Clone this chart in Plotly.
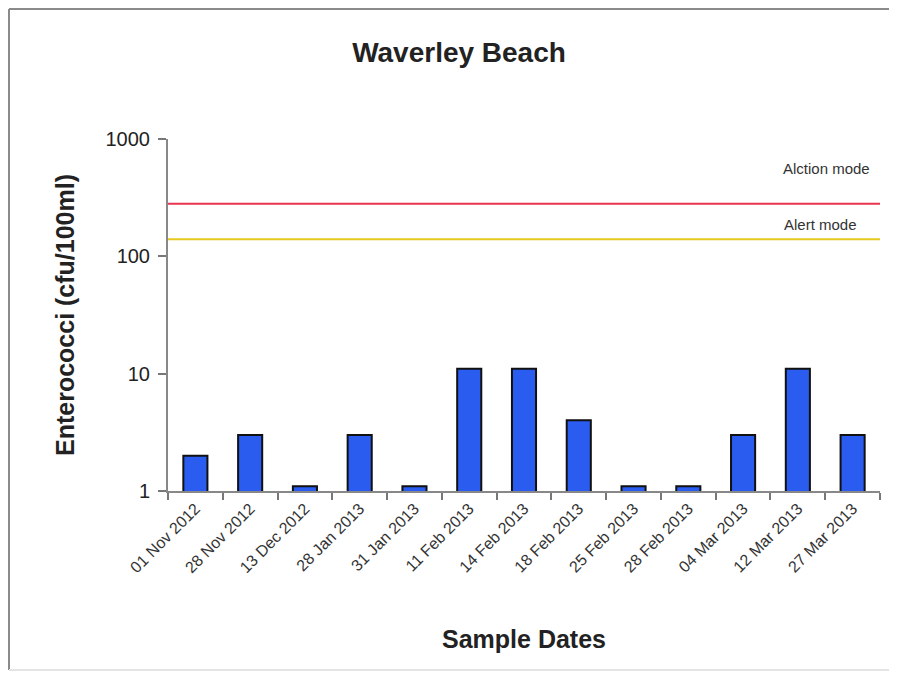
import plotly.graph_objects as go

dates = ["01 Nov 2012", "28 Nov 2012", "13 Dec 2012", "28 Jan 2013", "31 Jan 2013",
         "11 Feb 2013", "14 Feb 2013", "18 Feb 2013", "25 Feb 2013", "28 Feb 2013",
         "04 Mar 2013", "12 Mar 2013", "27 Mar 2013"]
enterococci = [2, 3, 1.1, 3, 1.1, 11, 11, 4, 1.1, 1.1, 3, 11, 3]
action_level = 280
alert_level = 140
y_ticks = [1, 10, 100, 1000]

FONT = "Arial, Liberation Sans, sans-serif"

fig = go.Figure()
fig.add_trace(go.Bar(
    x=dates, y=enterococci, width=0.44,
    marker=dict(color="#2a5cf0", line=dict(color="#111111", width=2)),
    showlegend=False,
))

# page body has an 8px margin; figure coordinates = screen - 8
W, H = 889, 665
L, R, T, B = 160, 17, 131, 182
pw, ph = W - L - R, H - T - B

def px(x):
    return (x - L) / pw

def py(y):
    return (H - B - y) / ph

shapes = [
    dict(type="line", xref="paper", yref="y", x0=0, x1=1, y0=action_level, y1=action_level,
         line=dict(color="#e8344f", width=2)),
    dict(type="line", xref="paper", yref="y", x0=0, x1=1, y0=alert_level, y1=alert_level,
         line=dict(color="#e6c81e", width=2)),
    # outer frame
    dict(type="line", xref="paper", yref="paper", x0=px(1), x1=px(920), y0=py(1), y1=py(1),
         line=dict(color="#8a8a8a", width=2), layer="below"),
    dict(type="line", xref="paper", yref="paper", x0=px(1), x1=px(1), y0=py(1), y1=py(662),
         line=dict(color="#8a8a8a", width=2), layer="below"),
    dict(type="line", xref="paper", yref="paper", x0=px(1), x1=px(920), y0=py(662), y1=py(662),
         line=dict(color="#e4e4e4", width=2), layer="below"),
]

annotations = [
    dict(text="Alction mode", xref="paper", yref="paper", x=px(818), y=py(160),
         xanchor="center", yanchor="middle",
         showarrow=False, font=dict(family=FONT, size=15, color="#333333")),
    dict(text="Alert mode", xref="paper", yref="paper", x=px(812), y=py(216),
         xanchor="center", yanchor="middle",
         showarrow=False, font=dict(family=FONT, size=15, color="#333333")),
]

fig.update_layout(
    width=W, height=H,
    margin=dict(l=L, r=R, t=T, b=B),
    paper_bgcolor="white", plot_bgcolor="white",
    font=dict(family=FONT, color="#222222"),
    title=dict(text="<b>Waverley Beach</b>", x=451 / W, xanchor="center",
               y=1 - 44 / H, yanchor="middle", font=dict(family=FONT, size=28, color="#222222")),
    shapes=shapes, annotations=annotations,
    bargap=0.56,
)
fig.update_xaxes(
    type="category", tickangle=-45, tickson="boundaries",
    ticks="outside", ticklen=7, tickcolor="#777777", tickwidth=2,
    showline=True, linecolor="#888888", linewidth=2,
    showgrid=False,
    tickfont=dict(family=FONT, size=16, color="#333333"),
    title=dict(text="<b>Sample Dates</b>", font=dict(family=FONT, size=25, color="#222222"), standoff=55),
)
fig.update_yaxes(
    type="log", range=[0, 3], tickvals=y_ticks, ticktext=[str(v) for v in y_ticks],
    ticks="outside", ticklen=8, tickcolor="#777777", tickwidth=2,
    showline=True, linecolor="#888888", linewidth=2,
    showgrid=False, zeroline=False, ticklabelstandoff=4,
    tickfont=dict(family=FONT, size=20, color="#222222"),
    title=dict(text="<b>Enterococci (cfu/100ml)</b>", font=dict(family=FONT, size=25, color="#222222"), standoff=24),
)

fig.write_html("out.html")
